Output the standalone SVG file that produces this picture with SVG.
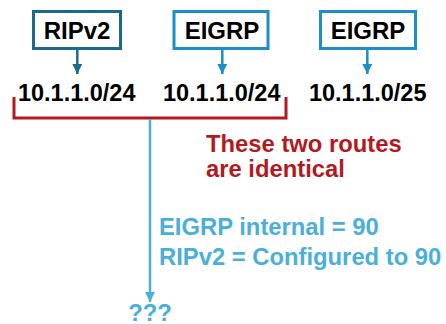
<svg xmlns="http://www.w3.org/2000/svg" width="446" height="324" viewBox="0 0 446 324">
<defs>
<style>
text{font-family:"Liberation Sans",Arial,sans-serif;font-weight:bold}
.box{fill:#fff;stroke-width:3}
.lbl{font-size:24px;fill:#000;text-anchor:middle}
.route{font-size:23.5px;fill:#000;text-anchor:middle}
.red{font-size:23.8px;fill:#b3191f}
.blue{font-size:23.8px;fill:#4aafda}
</style>
<marker id="ahDark" viewBox="0 0 10 10" refX="10" refY="5" markerWidth="4" markerHeight="4" orient="auto" markerUnits="strokeWidth"><path d="M0,0L10,5L0,10z" fill="#1b6a8c"/></marker>
<marker id="ahMid" viewBox="0 0 10 10" refX="10" refY="5" markerWidth="4" markerHeight="4" orient="auto" markerUnits="strokeWidth"><path d="M0,0L10,5L0,10z" fill="#1b8fc6"/></marker>
<marker id="ahLight" viewBox="0 0 10 10" refX="10" refY="5" markerWidth="4" markerHeight="4" orient="auto" markerUnits="strokeWidth"><path d="M0,0L10,5L0,10z" fill="#4aafda"/></marker>
</defs>
<rect width="446" height="324" fill="#fff"/>
<g id="ripv2">
<rect class="box" x="33.5" y="11.5" width="87" height="37" stroke="#1b6a8c"/>
<text class="lbl" x="77" y="39">RIPv2</text>
</g>
<g id="eigrp1">
<rect class="box" x="174" y="11.5" width="94" height="37" stroke="#1b8fc6"/>
<text class="lbl" x="222" y="39">EIGRP</text>
</g>
<g id="eigrp2">
<rect class="box" x="320.5" y="11.5" width="95" height="37" stroke="#1b8fc6"/>
<text class="lbl" x="368" y="39">EIGRP</text>
</g>
<g id="route1"><text class="route" x="76.7" y="100.5">10.1.1.0/24</text></g>
<g id="route2"><text class="route" x="221.7" y="100.5">10.1.1.0/24</text></g>
<g id="route3"><text class="route" x="367.7" y="100.5">10.1.1.0/25</text></g>
<g id="note-red">
<text class="red" x="206" y="151.5">These two routes</text>
<text class="red" x="206" y="176.5">are identical</text>
</g>
<g id="note-blue">
<text class="blue" x="159" y="235">EIGRP internal = 90</text>
<text class="blue" x="159" y="265">RIPv2 = Configured to 90</text>
</g>
<g id="result"><text class="blue" x="150" y="321" text-anchor="middle">???</text></g>
<g id="connectors" fill="none">
<line x1="77.3" y1="50" x2="77.3" y2="74" stroke="#1b6a8c" stroke-width="2.5" marker-end="url(#ahDark)"/>
<line x1="222.3" y1="50" x2="222.3" y2="74" stroke="#1b8fc6" stroke-width="2.5" marker-end="url(#ahMid)"/>
<line x1="367.3" y1="50" x2="367.3" y2="74" stroke="#1b8fc6" stroke-width="2.5" marker-end="url(#ahMid)"/>
<path d="M14,97V118H286V97" stroke="#b3191f" stroke-width="3"/>
<line x1="150" y1="119" x2="150" y2="302" stroke="#4aafda" stroke-width="2.5" marker-end="url(#ahLight)"/>
</g>
</svg>
